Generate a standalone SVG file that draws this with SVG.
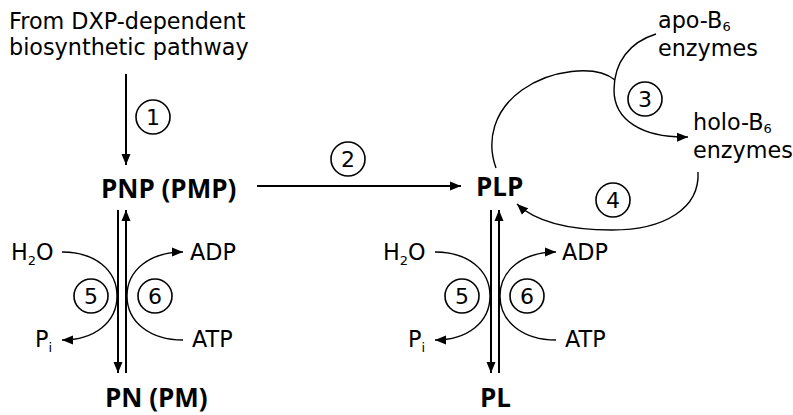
<svg xmlns="http://www.w3.org/2000/svg" width="793" height="415" viewBox="0 0 793 415">
<defs>
<style>
.t{font-family:"DejaVu Sans","Liberation Sans",sans-serif;font-size:22.3px;fill:#000}
.s{font-size:13px}
.b{font-family:"Open Sans","DejaVu Sans",sans-serif;font-weight:700;font-size:26px;fill:#000}
.n{font-family:"DejaVu Sans","Liberation Sans",sans-serif;font-size:22px;fill:#000;text-anchor:middle}
.c{fill:none;stroke:#000;stroke-width:1.4}
.l{fill:none;stroke:#000;stroke-width:2}
.k{fill:none;stroke:#000;stroke-width:1.6}
</style>
<marker id="ah" markerUnits="userSpaceOnUse" markerWidth="12" markerHeight="10" refX="11" refY="5" orient="auto">
<path d="M0,0.5 L11,5 L0,9.5 z" fill="#000"/>
</marker>
</defs>
<rect width="793" height="415" fill="#fff"/>

<g id="source"><text class="t" x="9" y="29">From DXP-dependent</text><text class="t" x="9" y="55">biosynthetic pathway</text></g>
<g id="PNP"><text class="b" x="101" y="198">PNP (PMP)</text></g>
<g id="PN"><text class="b" x="105" y="407">PN (PM)</text></g>
<g id="PLP"><text class="b" x="476" y="196">PLP</text></g>
<g id="PL"><text class="b" x="480" y="407">PL</text></g>
<g id="apo"><text class="t" x="658" y="28">apo-B<tspan class="s" dy="3">6</tspan></text><text class="t" x="658" y="56">enzymes</text></g>
<g id="holo"><text class="t" x="693" y="130">holo-B<tspan class="s" dy="3">6</tspan></text><text class="t" x="693" y="158">enzymes</text></g>
<g id="cofactors-left">
<text class="t" x="11" y="260">H<tspan class="s" dy="5">2</tspan><tspan dy="-5">O</tspan></text>
<text class="t" x="35" y="347">P<tspan class="s" dy="5">i</tspan></text>
<text class="t" x="190" y="260">ADP</text>
<text class="t" x="192" y="347">ATP</text>
</g>
<g id="cofactors-right">
<text class="t" x="383" y="260">H<tspan class="s" dy="5">2</tspan><tspan dy="-5">O</tspan></text>
<text class="t" x="408" y="347">P<tspan class="s" dy="5">i</tspan></text>
<text class="t" x="562" y="260">ADP</text>
<text class="t" x="565" y="347">ATP</text>
</g>

<g id="step-labels">
<circle class="k" cx="153" cy="117" r="17"/><text class="n" x="153" y="125">1</text>
<circle class="k" cx="348" cy="159" r="17"/><text class="n" x="348" y="167">2</text>
<circle class="k" cx="645" cy="99" r="17"/><text class="n" x="645" y="107">3</text>
<circle class="k" cx="613" cy="200" r="17"/><text class="n" x="613" y="208">4</text>
<circle class="k" cx="91" cy="296" r="17"/><text class="n" x="91" y="304">5</text>
<circle class="k" cx="155" cy="296" r="17"/><text class="n" x="155" y="304">6</text>
<circle class="k" cx="462" cy="296" r="17"/><text class="n" x="462" y="304">5</text>
<circle class="k" cx="527" cy="296" r="17"/><text class="n" x="527" y="304">6</text>
</g>

<g id="connectors">
<line class="l" x1="126" y1="74" x2="126" y2="165" marker-end="url(#ah)"/>
<line class="l" x1="257" y1="186" x2="461" y2="186" marker-end="url(#ah)"/>
<line class="l" x1="118" y1="210" x2="118" y2="373" marker-end="url(#ah)"/>
<line class="l" x1="126" y1="373" x2="126" y2="210" marker-end="url(#ah)"/>
<line class="l" x1="491" y1="210" x2="491" y2="373" marker-end="url(#ah)"/>
<line class="l" x1="499" y1="373" x2="499" y2="210" marker-end="url(#ah)"/>
<path class="c" d="M62 252 C95 252 117 270 117 296 C117 322 95 340 62 340" marker-end="url(#ah)"/>
<path class="c" d="M183 340 C150 340 127 322 127 296 C127 270 150 252 183 252" marker-end="url(#ah)"/>
<path class="c" d="M435 252 C468 252 490 270 490 296 C490 322 468 340 435 340" marker-end="url(#ah)"/>
<path class="c" d="M556 340 C523 340 500 322 500 296 C500 270 523 252 556 252" marker-end="url(#ah)"/>
<path class="c" d="M496 168 C486 140 494 110 522 90 C550 70 595 64 615 80"/>
<path class="c" d="M656 34 C630 42 614 62 614 90 C614 120 642 138 688 137" marker-end="url(#ah)"/>
<path class="c" d="M698 172 C700 208 665 230 612 230 C570 230 536 222 517 204" marker-end="url(#ah)"/>
</g>
</svg>
